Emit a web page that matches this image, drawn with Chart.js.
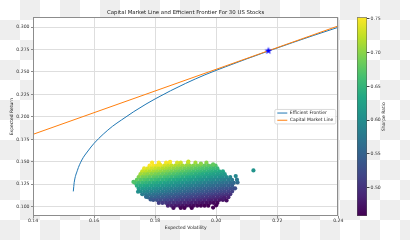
<!DOCTYPE html>
<html><head><meta charset="utf-8">
<script src="https://cdn.jsdelivr.net/npm/chart.js@4.4.1/dist/chart.umd.min.js"></script>
<style>
html,body{margin:0;padding:0;width:410px;height:240px;overflow:hidden;
background:repeating-conic-gradient(#eeeeee 0% 25%, #ffffff 0% 50%) 0 0 / 40px 40px;}
#main{position:absolute;left:0;top:0;}
#cbar{position:absolute;left:340px;top:0;}
</style></head><body>
<canvas id="main" width="410" height="240"></canvas>
<canvas id="cbar" width="70" height="240"></canvas>
<script>
// ---------- data ----------
const frontierVol = [0.1532,0.1535,0.1545,0.1560,0.1580,0.1600,0.1630,0.1660,0.1690,0.1730,0.1770,0.1800,0.1850,0.1900,0.1963,0.2030,0.2100,0.2171,0.2250,0.2320,0.2400];
const frontierRet = [0.1170,0.1270,0.1400,0.1520,0.1620,0.1705,0.1807,0.1894,0.1966,0.2058,0.2142,0.2200,0.2290,0.2373,0.2468,0.2557,0.2646,0.2733,0.2827,0.2908,0.2998];
const riskFree = 0.0115;
const cmlVol = [0.0, 0.24];
const cmlRet = [0.0115, 0.3013];
const tangencyVol = [0.2171];
const tangencyRet = [0.2736];
const cloudRet = [0.1490,0.1458,0.1426,0.1394,0.1362,0.1330,0.1298,0.1266,0.1234,0.1202,0.1170,0.1138,0.1106,0.1074,0.1042,0.1010,0.0985];
const cloudVol = [
 [0.1812,0.1836,0.1848,0.1872,0.1884,0.1908,0.1932,0.1968],
 [0.1782,0.1794,0.1806,0.1818,0.1830,0.1842,0.1854,0.1866,0.1878,0.1890,0.1902,0.1914,0.1926,0.1938,0.1950,0.1962,0.1974,0.1986,0.1998],
 [0.1764,0.1776,0.1788,0.1800,0.1812,0.1824,0.1836,0.1848,0.1860,0.1872,0.1884,0.1896,0.1908,0.1920,0.1932,0.1944,0.1956,0.1968,0.1980,0.1992,0.2004],
 [0.1758,0.1770,0.1782,0.1794,0.1806,0.1818,0.1830,0.1842,0.1854,0.1866,0.1878,0.1890,0.1902,0.1914,0.1926,0.1938,0.1950,0.1962,0.1974,0.1986,0.1998,0.2010,0.2022],
 [0.1752,0.1764,0.1776,0.1788,0.1800,0.1812,0.1824,0.1836,0.1848,0.1860,0.1872,0.1884,0.1896,0.1908,0.1920,0.1932,0.1944,0.1956,0.1968,0.1980,0.1992,0.2004,0.2016,0.2028],
 [0.1746,0.1758,0.1770,0.1782,0.1794,0.1806,0.1818,0.1830,0.1842,0.1854,0.1866,0.1878,0.1890,0.1902,0.1914,0.1926,0.1938,0.1950,0.1962,0.1974,0.1986,0.1998,0.2010,0.2022,0.2034,0.2046],
 [0.1740,0.1752,0.1764,0.1776,0.1788,0.1800,0.1812,0.1824,0.1836,0.1848,0.1860,0.1872,0.1884,0.1896,0.1908,0.1920,0.1932,0.1944,0.1956,0.1968,0.1980,0.1992,0.2004,0.2016,0.2028,0.2040,0.2052],
 [0.1734,0.1746,0.1758,0.1770,0.1782,0.1794,0.1806,0.1818,0.1830,0.1842,0.1854,0.1866,0.1878,0.1890,0.1902,0.1914,0.1926,0.1938,0.1950,0.1962,0.1974,0.1986,0.1998,0.2010,0.2022,0.2034,0.2046,0.2058],
 [0.1740,0.1752,0.1764,0.1776,0.1788,0.1800,0.1812,0.1824,0.1836,0.1848,0.1860,0.1872,0.1884,0.1896,0.1908,0.1920,0.1932,0.1944,0.1956,0.1968,0.1980,0.1992,0.2004,0.2016,0.2028,0.2040,0.2052],
 [0.1746,0.1758,0.1770,0.1782,0.1794,0.1806,0.1818,0.1830,0.1842,0.1854,0.1866,0.1878,0.1890,0.1902,0.1914,0.1926,0.1938,0.1950,0.1962,0.1974,0.1986,0.1998,0.2010,0.2022,0.2034,0.2046,0.2058],
 [0.1752,0.1764,0.1776,0.1788,0.1800,0.1812,0.1824,0.1836,0.1848,0.1860,0.1872,0.1884,0.1896,0.1908,0.1920,0.1932,0.1944,0.1956,0.1968,0.1980,0.1992,0.2004,0.2016,0.2028,0.2040,0.2052],
 [0.1758,0.1770,0.1782,0.1794,0.1806,0.1818,0.1830,0.1842,0.1854,0.1866,0.1878,0.1890,0.1902,0.1914,0.1926,0.1938,0.1950,0.1962,0.1974,0.1986,0.1998,0.2010,0.2022,0.2034,0.2046],
 [0.1776,0.1788,0.1800,0.1812,0.1824,0.1836,0.1848,0.1860,0.1872,0.1884,0.1896,0.1908,0.1920,0.1932,0.1944,0.1956,0.1968,0.1980,0.1992,0.2004,0.2016,0.2028,0.2040],
 [0.1794,0.1806,0.1818,0.1830,0.1842,0.1854,0.1866,0.1878,0.1890,0.1902,0.1914,0.1926,0.1938,0.1950,0.1962,0.1974,0.1986,0.1998,0.2010,0.2022],
 [0.1812,0.1824,0.1836,0.1848,0.1860,0.1872,0.1884,0.1896,0.1908,0.1920,0.1932,0.1944,0.1956,0.1968,0.1980,0.1992,0.2004],
 [0.1842,0.1854,0.1866,0.1878,0.1890,0.1902,0.1914,0.1926,0.1938,0.1950,0.1962,0.1974],
 [0.1860,0.1884,0.1896,0.1920]
];
const outlierVol = [0.1729,0.2122,0.2064,0.2062,0.1849,0.1909,0.1816,0.1770,0.1785,0.2026,0.2000,0.1990,0.1790,0.1950,0.1990,0.2070,0.2068,0.1744,0.2034];
const outlierRet = [0.1275,0.1404,0.1341,0.1204,0.1500,0.1502,0.1468,0.1110,0.1080,0.1093,0.1015,0.0990,0.1490,0.1480,0.1470,0.1270,0.1300,0.1166,0.1070];
const xTicks = [0.14,0.16,0.18,0.20,0.22,0.24];
const yTicks = [0.100,0.125,0.150,0.175,0.200,0.225,0.250,0.275,0.300];
const sharpeTicks = [0.50,0.55,0.60,0.65,0.70,0.75];
const sharpeMin = 0.458, sharpeMax = 0.7525;
const titleText = 'Capital Market Line and Efficient Frontier For 30 US Stocks';

// ---------- styling helpers ----------
const FONT = "'DejaVu Sans', sans-serif";
Chart.defaults.font.family = FONT;
const viridisStops = ['#440154','#482475','#414487','#355f8d','#2a788e','#21918c','#22a884','#44bf70','#7ad151','#bddf26','#fde725'];
function hex2rgb(h){return [parseInt(h.substr(1,2),16),parseInt(h.substr(3,2),16),parseInt(h.substr(5,2),16)];}
function viridis(t){
  t = Math.max(0, Math.min(1, t));
  const p = t*(viridisStops.length-1), i = Math.min(Math.floor(p), viridisStops.length-2), f = p-i;
  const a = hex2rgb(viridisStops[i]), b = hex2rgb(viridisStops[i+1]);
  return 'rgb('+a.map((v,k)=>Math.round(v+(b[k]-v)*f)).join(',')+')';
}
function sharpeColor(vol, ret){ return viridis(((ret-riskFree)/vol - sharpeMin)/(sharpeMax-sharpeMin)); }

const cloudPts = [], cloudColors = [];
cloudRet.forEach((r,i)=>cloudVol[i].forEach(v=>{cloudPts.push({x:v,y:r}); cloudColors.push(sharpeColor(v,r));}));
outlierVol.forEach((v,i)=>{cloudPts.push({x:v,y:outlierRet[i]}); cloudColors.push(sharpeColor(v,outlierRet[i]));});

function makeStar(r, color){
  const s = Math.ceil(r*2)+2, c = document.createElement('canvas'); c.width=s; c.height=s;
  const g = c.getContext('2d'); g.fillStyle = color; g.beginPath();
  for(let i=0;i<10;i++){const rad = i%2 ? r*0.4 : r; const a = -Math.PI/2 + i*Math.PI/5; g.lineTo(s/2+rad*Math.cos(a), s/2+rad*Math.sin(a));}
  g.closePath(); g.fill(); return c;
}

const bgPlugin = {id:'bg', beforeDraw(chart){const a=chart.chartArea,c=chart.ctx;c.save();c.fillStyle='#ffffff';c.fillRect(a.left,a.top,a.right-a.left,a.bottom-a.top);c.restore();}};
const framePlugin = {id:'frame', afterDatasetsDraw(chart){const a=chart.chartArea,c=chart.ctx;c.save();c.strokeStyle='#8c8c8c';c.lineWidth=1;c.strokeRect(Math.round(a.left)+0.5,Math.round(a.top)+0.5,Math.round(a.right-a.left)-1,Math.round(a.bottom-a.top)-1);c.restore();}};
const legendPlugin = {id:'mplLegend', afterDraw(chart){
  const a=chart.chartArea,c=chart.ctx;
  const items = chart.data.datasets.filter(d=>d.legendRank).sort((p,q)=>p.legendRank-q.legendRank);
  const w=61,h=14.5,x=a.right-2.5-w,y=(a.top+a.bottom)/2-h/2;
  c.save();
  c.fillStyle='rgba(255,255,255,0.85)';c.strokeStyle='#d0d0d0';c.lineWidth=0.8;
  c.beginPath();c.roundRect(x,y,w,h,1.5);c.fill();c.stroke();
  c.font='4.5px '+FONT;c.textBaseline='middle';c.fillStyle='#222';
  items.forEach((d,i)=>{const yy=y+3.6+i*7.2;c.strokeStyle=d.borderColor;c.lineWidth=1;c.beginPath();c.moveTo(x+2.5,yy);c.lineTo(x+12.5,yy);c.stroke();c.fillText(d.label,x+15,yy);});
  c.restore();
}};

new Chart(document.getElementById('main'), {
  type:'scatter',
  data:{datasets:[
    {label:'Tangency Portfolio', data:tangencyVol.map((v,i)=>({x:v,y:tangencyRet[i]})), pointStyle:makeStar(3.9,'#0000ff'), pointRadius:4, order:0},
    {label:'Capital Market Line', legendRank:2, data:cmlVol.map((v,i)=>({x:v,y:cmlRet[i]})), showLine:true, borderColor:'#ff7f0e', borderWidth:1, pointRadius:0, order:1},
    {label:'Efficient Frontier', legendRank:1, data:frontierVol.map((v,i)=>({x:v,y:frontierRet[i]})), showLine:true, cubicInterpolationMode:'monotone', borderColor:'#1f77b4', borderWidth:1, pointRadius:0, order:2},
    {label:'Portfolios', data:cloudPts, pointRadius:2.1, pointBackgroundColor:cloudColors, pointBorderWidth:0, order:3}
  ]},
  options:{
    responsive:false, animation:false, events:[],
    layout:{padding:{left:0,right:71.7,top:0,bottom:0}},
    plugins:{
      legend:{display:false}, tooltip:{enabled:false},
      title:{display:true, text:titleText, fullSize:false, color:'#222', font:{size:5.4, weight:'normal'}, padding:{top:9.8,bottom:1.1}}
    },
    scales:{
      x:{type:'linear', min:0.14, max:0.24,
        afterBuildTicks:s=>{s.ticks=xTicks.map(v=>({value:v}));},
        afterFit:s=>{s.height=24;},
        ticks:{callback:v=>v.toFixed(2), font:{size:4.6}, color:'#333', padding:0.5, maxRotation:0, autoSkip:false},
        grid:{color:'#dedede', lineWidth:1, tickLength:2, tickColor:'#8c8c8c'},
        border:{display:false},
        title:{display:true, text:'Expected Volatility', color:'#222', font:{size:4.5}, padding:{top:0,bottom:9.3}}
      },
      y:{type:'linear', min:0.0896, max:0.3108,
        afterBuildTicks:s=>{s.ticks=yTicks.map(v=>({value:v}));},
        afterFit:s=>{s.width=33;},
        ticks:{callback:v=>v.toFixed(3), font:{size:4.6}, color:'#333', padding:1.5, autoSkip:false},
        grid:{color:'#dedede', lineWidth:1, tickLength:2, tickColor:'#8c8c8c'},
        border:{display:false},
        title:{display:true, text:'Expected Return', color:'#222', font:{size:4.5}, padding:{top:9.3,bottom:0}}
      }
    }
  },
  plugins:[bgPlugin, framePlugin, legendPlugin]
});

const cbLabelPlugin = {id:'cbLabel', afterDraw(chart){
  const a=chart.chartArea,c=chart.ctx;c.save();
  c.translate(44,(a.top+a.bottom)/2);c.rotate(-Math.PI/2);
  c.font='4.5px '+FONT;c.fillStyle='#222';c.textAlign='center';c.textBaseline='middle';
  c.fillText('Sharpe Ratio',0,0);c.restore();
}};

new Chart(document.getElementById('cbar'), {
  type:'bar',
  data:{labels:['Sharpe Ratio'], datasets:[{
    data:[[sharpeMin, sharpeMax]],
    backgroundColor:(ctx)=>{
      const a=ctx.chart.chartArea; if(!a) return viridisStops[5];
      const g=ctx.chart.ctx.createLinearGradient(0,a.bottom,0,a.top);
      viridisStops.forEach((col,i)=>g.addColorStop(i/(viridisStops.length-1),col));
      return g;
    },
    borderColor:'#555', borderWidth:0.8, borderSkipped:false, barPercentage:1, categoryPercentage:1
  }]},
  options:{
    responsive:false, animation:false, events:[],
    layout:{padding:{left:17,right:0,top:17.3,bottom:24}},
    plugins:{legend:{display:false}, tooltip:{enabled:false}},
    scales:{
      x:{display:false},
      y:{position:'right', min:sharpeMin, max:sharpeMax,
        afterBuildTicks:s=>{s.ticks=sharpeTicks.map(v=>({value:v}));},
        afterFit:s=>{s.width=43;},
        ticks:{callback:v=>v.toFixed(2), font:{size:4.6}, color:'#333', padding:1},
        grid:{drawOnChartArea:false, tickLength:2.5, tickColor:'#444'},
        border:{display:false}
      }
    }
  },
  plugins:[cbLabelPlugin]
});
</script>
</body></html>
